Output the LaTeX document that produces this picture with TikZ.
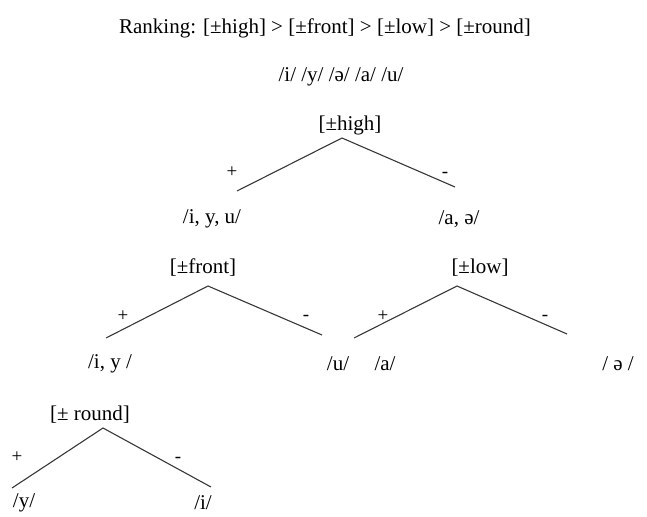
\documentclass[tikz,border=0pt]{standalone}
\usepackage{fontspec}
\setmainfont{Liberation Serif}
\usetikzlibrary{positioning}
\definecolor{branchgray}{RGB}{55,55,55}

\begin{document}
\begin{tikzpicture}[x=1pt,y=-1pt,
    lbl/.style={font=\fontsize{21}{25}\selectfont,inner sep=0pt},
    sgn/.style={font=\fontsize{19}{22}\selectfont,inner sep=0pt},
    branch/.style={draw=branchgray,line width=1.1pt}]
  \useasboundingbox (0,0) rectangle (647,516);

  % heading
  \node[lbl] (ranking) at (325,28)
    {Ranking: [±high] > [±front] > [±low] > [±round]};
  \node[lbl] (vowels) at (341,77) {/i/ /y/ /ə/ /a/ /u/};

  % [+-high]
  \node[lbl] (high) at (350,125) {[±high]};
  \coordinate (high-top) at (342,138);
  \coordinate (high-l) at (237,191);
  \coordinate (high-r) at (455,187);
  \draw[branch] (high-l) -- (high-top) -- (high-r);
  \node[sgn] (high-plus) at (232,172) {+};
  \node[sgn] (high-minus) at (445,175) {-};
  \node[lbl] (high-yes) at (212,219) {/i, y, u/};
  \node[lbl] (high-no) at (459,219) {/a, ə/};

  % [+-front]
  \node[lbl] (front) at (203,268) {[±front]};
  \coordinate (front-top) at (208,286);
  \coordinate (front-l) at (106,338);
  \coordinate (front-r) at (322,335);
  \draw[branch] (front-l) -- (front-top) -- (front-r);
  \node[sgn] (front-plus) at (123,316) {+};
  \node[sgn] (front-minus) at (306,318) {-};
  \node[lbl] (front-yes) at (110,364) {/i, y /};
  \node[lbl] (front-no) at (338,364) {/u/};

  % [+-low]
  \node[lbl] (low) at (480,268) {[±low]};
  \coordinate (low-top) at (457,286);
  \coordinate (low-l) at (354,338);
  \coordinate (low-r) at (567,334);
  \draw[branch] (low-l) -- (low-top) -- (low-r);
  \node[sgn] (low-plus) at (383,316) {+};
  \node[sgn] (low-minus) at (545,318) {-};
  \node[lbl] (low-yes) at (385,364) {/a/};
  \node[lbl] (low-no) at (618,364) {/ ə /};

  % [+-round]
  \node[lbl] (round) at (90,415) {[± round]};
  \coordinate (round-top) at (103,428);
  \coordinate (round-l) at (12,488);
  \coordinate (round-r) at (211,487);
  \draw[branch] (round-l) -- (round-top) -- (round-r);
  \node[sgn] (round-plus) at (17,457) {+};
  \node[sgn] (round-minus) at (178,460) {-};
  \node[lbl] (round-yes) at (24,503) {/y/};
  \node[lbl] (round-no) at (203,503) {/i/};
\end{tikzpicture}
\end{document}
